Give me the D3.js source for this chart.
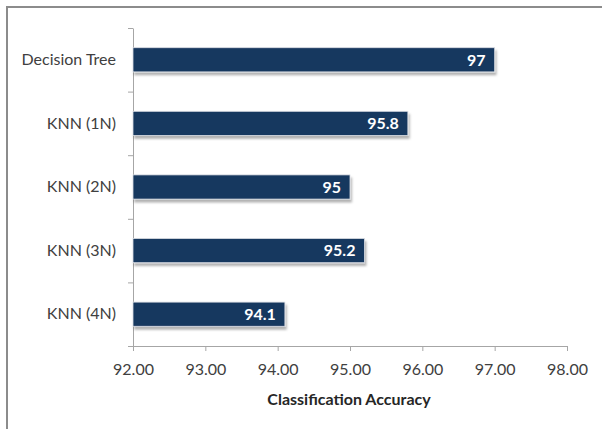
<!DOCTYPE html>
<html>
<head>
<meta charset="utf-8">
<script src="https://cdn.jsdelivr.net/npm/d3@7"></script>
<style>
  body { margin: 0; background: #fff; }
  svg { display: block; font-family: Lato, "Open Sans", sans-serif; }
  .axis path, .axis line { stroke: #a6a6a6; }
  .axis text { fill: #404040; font-size: 16px; font-family: Lato, "Open Sans", sans-serif; }
</style>
</head>
<body>
<div id="chart"></div>
<script>
const categories = ['Decision Tree', 'KNN (1N)', 'KNN (2N)', 'KNN (3N)', 'KNN (4N)'];
const accuracy = [97, 95.8, 95, 95.2, 94.1];
const xTicks = [92, 93, 94, 95, 96, 97, 98];
const xTitle = 'Classification Accuracy';

const width = 602, height = 429;
const plot = {left: 133, right: 567, top: 28, bottom: 346};

const svg = d3.select('#chart').append('svg')
  .attr('width', width)
  .attr('height', height);

// frame of the original chart area, cut off at the right and bottom
svg.append('path')
  .attr('d', `M7,${height + 5}V7H${width + 5}`)
  .attr('fill', 'none')
  .attr('stroke', '#8c8c8c')
  .attr('stroke-width', 2);

// soft shadow under the bars
const defs = svg.append('defs');
defs.append('filter')
  .attr('id', 'shadow')
  .attr('x', '-5%').attr('y', '-20%')
  .attr('width', '115%').attr('height', '160%')
  .append('feDropShadow')
  .attr('dx', 1.5).attr('dy', 3)
  .attr('stdDeviation', 1.2)
  .attr('flood-color', '#000')
  .attr('flood-opacity', 0.3);

const x = d3.scaleLinear()
  .domain(d3.extent(xTicks))
  .range([plot.left, plot.right]);

const y = d3.scaleBand()
  .domain(categories)
  .range([plot.top, plot.bottom])
  .paddingInner(0.62)
  .paddingOuter(0.31);

// tick marks between the categories
const yEdges = d3.scaleLinear()
  .domain([0, categories.length])
  .range([plot.top, plot.bottom]);

svg.append('g')
  .attr('class', 'axis')
  .attr('transform', `translate(${plot.left},0)`)
  .call(d3.axisLeft(yEdges).tickValues(d3.range(categories.length + 1)).tickSize(5).tickSizeOuter(0).tickFormat(''));

// category names
svg.append('g')
  .attr('class', 'axis')
  .attr('transform', `translate(${plot.left - 14},0)`)
  .call(d3.axisLeft(y).tickSize(0))
  .call(g => g.select('.domain').remove());

svg.append('g')
  .attr('class', 'axis')
  .attr('transform', `translate(0,${plot.bottom})`)
  .call(d3.axisBottom(x).tickValues(xTicks).tickSize(5).tickSizeOuter(0).tickPadding(13).tickFormat(d3.format('.2f')));

svg.append('text')
  .attr('x', (plot.left + plot.right) / 2 - 1)
  .attr('y', 405)
  .attr('text-anchor', 'middle')
  .attr('font-size', 16)
  .attr('font-weight', 'bold')
  .attr('fill', '#262626')
  .text(xTitle);

const data = categories.map((c, i) => ({name: c, value: accuracy[i]}));

svg.selectAll('.bar')
  .data(data)
  .enter()
  .append('rect')
  .attr('class', 'bar')
  .attr('x', x(x.domain()[0]))
  .attr('y', d => y(d.name))
  .attr('width', d => x(d.value) - x(x.domain()[0]))
  .attr('height', y.bandwidth())
  .attr('fill', '#17375e')
  .attr('stroke', '#d9dde3')
  .attr('stroke-width', 0.8)
  .attr('filter', 'url(#shadow)');

svg.selectAll('.value')
  .data(data)
  .enter()
  .append('text')
  .attr('class', 'value')
  .attr('x', d => x(d.value) - 9)
  .attr('y', d => y(d.name) + y.bandwidth() / 2)
  .attr('dy', '0.36em')
  .attr('text-anchor', 'end')
  .attr('font-size', 16)
  .attr('font-weight', 'bold')
  .attr('fill', '#fff')
  .text(d => d.value);
</script>
</body>
</html>
